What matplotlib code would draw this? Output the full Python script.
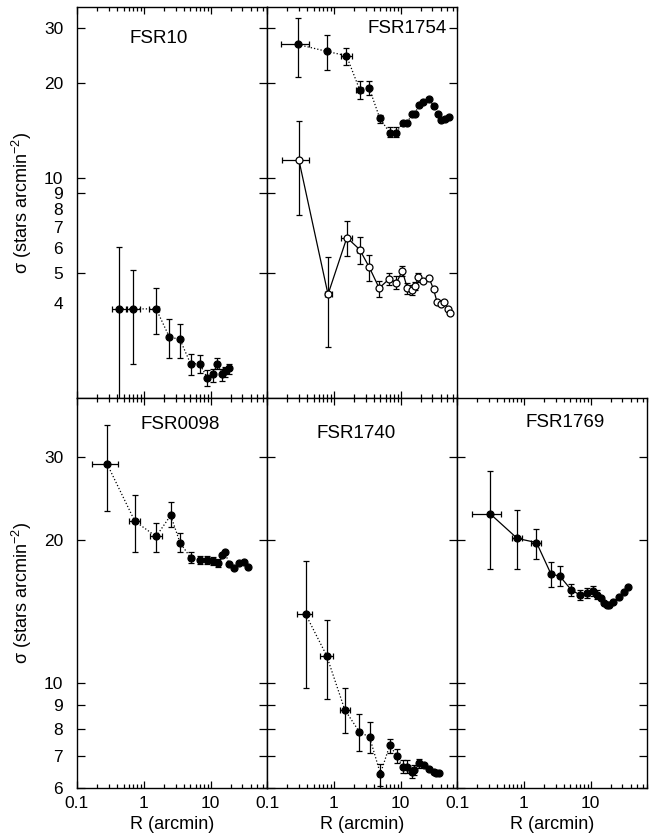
"""
Radial density profiles of five FSR clusters (log-log panels).
"""
import numpy as np
import matplotlib
matplotlib.use('Agg')
import matplotlib.pyplot as plt

plt.rcParams['font.family'] = ['Liberation Sans', 'DejaVu Sans']
plt.rcParams['mathtext.fontset'] = 'custom'
plt.rcParams['mathtext.rm'] = 'Liberation Sans'
plt.rcParams['mathtext.default'] = 'regular'

nan = np.nan

# ---------------------------------------------------------------- FSR10
fsr10_r   = [0.43, 0.70, 1.53, 2.41, 3.48, 5.02, 6.85, 8.9, 10.8, 12.7, 14.9, 16.7, 18.6]
fsr10_sig = [3.84, 3.84, 3.84, 3.13, 3.07, 2.57, 2.57, 2.32, 2.38, 2.57, 2.38, 2.43, 2.49]
fsr10_lo  = [1.50, 2.57, 3.20, 2.69, 2.69, 2.36, 2.40, 2.19, 2.25, 2.48, 2.27, 2.34, 2.39]
fsr10_hi  = [6.06, 5.12, 4.48, 3.57, 3.44, 2.76, 2.73, 2.45, 2.48, 2.68, 2.47, 2.51, 2.56]
fsr10_rlo = [0.34, 0.56, 1.21, nan, nan, nan, nan, nan, nan, nan, nan, nan, nan]
fsr10_rhi = [0.54, 0.88, 1.71, nan, nan, nan, nan, nan, nan, nan, nan, nan, nan]

# ---------------------------------------------------------------- FSR1754 (filled)
fsr1754a_r   = [0.29, 0.78, 1.55, 2.44, 3.40, 4.89, 6.87, 8.63, 10.8, 12.6,
                14.7, 16.5, 18.7, 21.9, 26.6, 31.6, 36.2, 41.0, 46.9, 53.2]
fsr1754a_sig = [26.6, 25.3, 24.5, 19.1, 19.3, 15.5, 13.95, 13.95, 15.0, 14.96,
                16.0, 16.0, 17.1, 17.5, 17.9, 16.9, 16.0, 15.3, 15.45, 15.6]
fsr1754a_lo  = [20.9, 22.1, 22.9, 17.9, 18.4, 14.96, 13.5, 13.5, nan, nan,
                nan, nan, nan, nan, nan, nan, nan, nan, nan, nan]
fsr1754a_hi  = [32.4, 28.6, 26.0, 20.3, 20.3, 15.9, 14.5, 14.5, nan, nan,
                nan, nan, nan, nan, nan, nan, nan, nan, nan, nan]
fsr1754a_rlo = [0.16, nan, 1.28, 2.16] + [nan] * 16
fsr1754a_rhi = [0.42, nan, 1.86, 2.77] + [nan] * 16

# ---------------------------------------------------------------- FSR1754 (open)
fsr1754b_r   = [0.30, 0.82, 1.57, 2.44, 3.40, 4.78, 6.8, 8.64, 10.6, 12.7, 14.6,
                16.5, 18.5, 21.7, 26.6, 31.2, 35.3, 40.5, 45.3, 50.9, 55.1]
fsr1754b_sig = [11.43, 4.27, 6.47, 5.93, 5.21, 4.47, 4.79, 4.64, 5.07, 4.46, 4.42,
                4.53, 4.84, 4.70, 4.83, 4.43, 4.03, 3.98, 4.03, 3.85, 3.72]
fsr1754b_lo  = [7.66, 2.91, 5.66, 5.32, 4.71, 4.19, 4.57, 4.45, 4.87, 4.29, 4.26,
                4.41, 4.69, nan, nan, nan, nan, nan, nan, nan, nan]
fsr1754b_hi  = [15.2, 5.61, 7.31, 6.52, 5.68, 4.72, 5.01, 4.87, 5.27, 4.64, 4.58,
                4.68, 4.99, nan, nan, nan, nan, nan, nan, nan, nan]
fsr1754b_rlo = [0.17, 0.73, 1.30, 2.25] + [nan] * 17
fsr1754b_rhi = [0.43, 0.94, 1.90, 2.65] + [nan] * 17

# ---------------------------------------------------------------- FSR0098
fsr0098_r   = [0.283, 0.734, 1.53, 2.53, 3.48, 5.02, 6.92, 8.8, 10.9, 12.9,
               14.8, 16.5, 19.0, 22.3, 27.1, 31.7, 36.9]
fsr0098_sig = [29.0, 21.97, 20.4, 22.6, 19.8, 18.4, 18.2, 18.2, 18.1, 17.96,
               18.6, 18.9, 17.8, 17.5, 17.9, 18.05, 17.6]
fsr0098_lo  = [23.1, 18.9, 18.9, 21.4, 18.9, 17.9, 17.85, 17.85, 17.75, 17.6,
               nan, nan, nan, nan, nan, nan, nan]
fsr0098_hi  = [35.0, 25.0, 21.8, 24.1, 20.7, 18.9, 18.55, 18.55, 18.45, 18.3,
               nan, nan, nan, nan, nan, nan, nan]
fsr0098_rlo = [0.168, 0.60, 1.25] + [nan] * 14
fsr0098_rhi = [0.41, 0.89, 1.87] + [nan] * 14

# ---------------------------------------------------------------- FSR1740
fsr1740_r   = [0.379, 0.78, 1.46, 2.41, 3.44, 4.99, 6.87, 8.8, 10.7, 12.7,
               14.7, 16.1, 18.7, 22.1, 26.9, 31.5, 33.7, 37.0]
fsr1740_sig = [13.97, 11.43, 8.78, 7.89, 7.68, 6.43, 7.38, 7.02, 6.66, 6.63,
               6.48, 6.56, 6.77, 6.70, 6.58, 6.47, 6.45, 6.45]
fsr1740_lo  = [9.77, 9.23, 7.84, 7.20, 7.11, 6.05, 7.11, 6.79, 6.44, 6.44,
               6.31, 6.40, 6.62, nan, nan, nan, nan, nan]
fsr1740_hi  = [18.1, 13.6, 9.77, 8.59, 8.26, 6.74, 7.63, 7.26, 6.86, 6.86,
               6.62, 6.70, 6.90, nan, nan, nan, nan, nan]
fsr1740_rlo = [0.28, 0.63, 1.23, 2.25] + [nan] * 14
fsr1740_rhi = [0.48, 0.97, 1.77, 2.60] + [nan] * 14

# ---------------------------------------------------------------- FSR1769
fsr1769_r   = [0.316, 0.80, 1.55, 2.55, 3.48, 5.12, 6.87, 8.73, 10.7, 12.4,
               14.3, 16.0, 17.7, 18.8, 21.9, 26.9, 31.9, 36.6]
fsr1769_sig = [22.75, 20.2, 19.8, 17.0, 16.8, 15.74, 15.35, 15.5, 15.67, 15.37,
               15.13, 14.76, 14.59, 14.62, 14.83, 15.22, 15.59, 15.92]
fsr1769_lo  = [17.42, 17.4, 18.3, 15.97, 16.0, 15.27, 14.95, 15.1, 15.3, 15.05,
               nan, nan, nan, nan, nan, nan, nan, nan]
fsr1769_hi  = [28.1, 23.2, 21.2, 18.0, 17.7, 16.18, 15.74, 15.85, 16.0, 15.7,
               nan, nan, nan, nan, nan, nan, nan, nan]
fsr1769_rlo = [0.169, 0.66, 1.27, 2.35] + [nan] * 14
fsr1769_rhi = [0.454, 0.95, 1.83, 2.75] + [nan] * 14


def draw_profile(ax, r, sig, lo, hi, rlo, rhi, ls=':', open_marker=False):
    r = np.asarray(r); sig = np.asarray(sig)
    lo = np.asarray(lo); hi = np.asarray(hi)
    rlo = np.asarray(rlo); rhi = np.asarray(rhi)
    ax.plot(r, sig, color='k', ls=ls, lw=0.9, zorder=2)
    m = ~np.isnan(lo)
    ax.errorbar(r[m], sig[m], yerr=[sig[m] - lo[m], hi[m] - sig[m]], fmt='none',
                ecolor='k', elinewidth=0.9, capsize=2.2, capthick=0.9, zorder=3)
    m = ~np.isnan(rlo)
    ax.errorbar(r[m], sig[m], xerr=[r[m] - rlo[m], rhi[m] - r[m]], fmt='none',
                ecolor='k', elinewidth=0.9, capsize=2.2, capthick=0.9, zorder=3)
    face = 'white' if open_marker else 'black'
    ax.plot(r, sig, 'o', ms=5, mfc=face, mec='k', mew=0.9, ls='none', zorder=4)


W, H = 651, 839
fig = plt.figure(figsize=(W / 100, H / 100), dpi=100)


def make_ax(x0, y_top, y_bot):
    ax = fig.add_axes([x0 / W, 1 - y_bot / H, 190 / W, (y_bot - y_top) / H])
    ax.set_xscale('log'); ax.set_yscale('log')
    ax.set_xlim(0.1, 70)
    for s in ax.spines.values():
        s.set_linewidth(1.0)
    ax.xaxis.set_major_locator(matplotlib.ticker.FixedLocator([0.1, 1, 10]))
    minors = [k * 10.0**e for e in (-1, 0, 1) for k in range(2, 10)]
    ax.xaxis.set_minor_locator(matplotlib.ticker.FixedLocator(minors))
    ax.xaxis.set_minor_formatter(matplotlib.ticker.NullFormatter())
    ax.xaxis.set_major_formatter(matplotlib.ticker.FixedFormatter(['0.1', '1', '10']))
    ax.tick_params(axis='x', which='both', direction='in', top=True, bottom=True,
                   labelsize=12.5, pad=6)
    ax.tick_params(axis='x', which='major', length=5, width=0.9)
    ax.tick_params(axis='x', which='minor', length=3, width=0.9)
    ax.tick_params(axis='y', which='both', direction='in', left=True, right=True,
                   labelsize=12.5, pad=10, length=6, width=0.9)
    return ax


# top row
top_axes = [make_ax(77, 7, 398), make_ax(267, 7, 398)]
for ax in top_axes:
    ax.set_ylim(2.0, 35)
    ax.set_yticks([5, 9, 10, 20, 30])
    ax.set_yticks([4, 6, 7, 8], minor=True)
    ax.tick_params(axis='y', which='minor', length=0)
    ax.tick_params(axis='x', labelbottom=False)
top_axes[0].set_yticklabels(['5', '9', '10', '20', '30'])
top_axes[0].set_yticklabels(['4', '6', '7', '8'], minor=True)
top_axes[1].set_yticklabels([]); top_axes[1].set_yticklabels([], minor=True)

# bottom row
bot_axes = [make_ax(77, 398, 788), make_ax(267, 398, 788), make_ax(457, 398, 788)]
for ax in bot_axes:
    ax.set_ylim(6, 40)
    ax.set_yticks([6, 7, 8, 9, 10, 20, 30])
    ax.yaxis.set_minor_locator(matplotlib.ticker.NullLocator())
    ax.set_xlabel('R (arcmin)', fontsize=13)
    ax.xaxis.set_label_coords(0.5, -0.072)
bot_axes[0].set_yticklabels(['6', '7', '8', '9', '10', '20', '30'])
for ax in bot_axes[1:]:
    ax.set_yticklabels([])

for ax in (top_axes[0], bot_axes[0]):
    ax.set_ylabel(r'σ (stars arcmin$^{-2}$)', fontsize=13)
    ax.yaxis.set_label_coords(-0.225, 0.5)

draw_profile(top_axes[0], fsr10_r, fsr10_sig, fsr10_lo, fsr10_hi, fsr10_rlo, fsr10_rhi)
draw_profile(top_axes[1], fsr1754a_r, fsr1754a_sig, fsr1754a_lo, fsr1754a_hi,
             fsr1754a_rlo, fsr1754a_rhi)
draw_profile(top_axes[1], fsr1754b_r, fsr1754b_sig, fsr1754b_lo, fsr1754b_hi,
             fsr1754b_rlo, fsr1754b_rhi, ls='-', open_marker=True)
draw_profile(bot_axes[0], fsr0098_r, fsr0098_sig, fsr0098_lo, fsr0098_hi,
             fsr0098_rlo, fsr0098_rhi)
draw_profile(bot_axes[1], fsr1740_r, fsr1740_sig, fsr1740_lo, fsr1740_hi,
             fsr1740_rlo, fsr1740_rhi)
draw_profile(bot_axes[2], fsr1769_r, fsr1769_sig, fsr1769_lo, fsr1769_hi,
             fsr1769_rlo, fsr1769_rhi, ls='-')

for ax, name, x, y in [(top_axes[0], 'FSR10', 0.43, 0.92),
                       (top_axes[1], 'FSR1754', 0.737, 0.944),
                       (bot_axes[0], 'FSR0098', 0.542, 0.931),
                       (bot_axes[1], 'FSR1740', 0.468, 0.91),
                       (bot_axes[2], 'FSR1769', 0.571, 0.936)]:
    ax.text(x, y, name, transform=ax.transAxes, ha='center', va='center', fontsize=13.5)

fig.savefig('out.png', dpi=100)
